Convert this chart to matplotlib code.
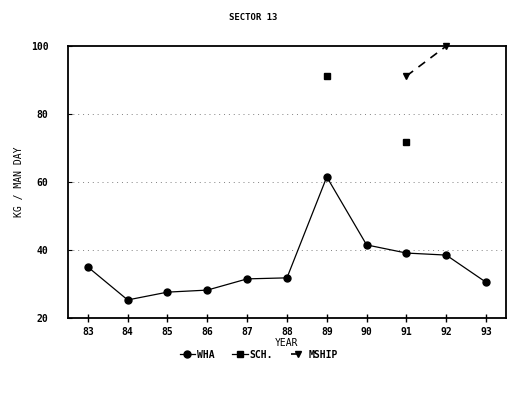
import numpy as np
import matplotlib.pyplot as plt

years = [83, 84, 85, 86, 87, 88, 89, 90, 91, 92, 93]
year_labels = ["83", "84", "85", "86", "87", "88", "89", "90", "91", "92", "93"]
wha = [35.0, 25.3, 27.6, 28.2, 31.5, 31.8, 61.5, 41.5, 39.1, 38.5, 30.5]
sch = [np.nan, np.nan, np.nan, np.nan, np.nan, np.nan, 91.2, np.nan, 71.8, np.nan, np.nan]
mship = [np.nan, np.nan, np.nan, np.nan, np.nan, np.nan, np.nan, np.nan, 91.2, 100.0, np.nan]

plt.rcParams['font.family'] = ['DejaVu Sans Mono']
plt.rcParams['font.weight'] = 'bold'

fig = plt.figure(figsize=(5.07, 3.94), dpi=100)
ax = fig.add_axes([0.134, 0.193, 0.864, 0.690])

ax.plot(years, wha, color='black', lw=0.9, marker='o', ms=5, label='WHA')
ax.plot(years, sch, color='black', lw=0.9, marker='s', ms=4.5, label='SCH.', clip_on=False)
ax.plot(years, mship, color='black', lw=1.2, ls=(0, (5, 4)), marker='v', ms=5,
        label='MSHIP', clip_on=False)

ax.set_xlim(82.5, 93.5)
ax.set_ylim(20, 100)
ax.set_xticks(years)
ax.set_xticklabels(year_labels, fontsize=7)
ax.set_yticks([20, 40, 60, 80, 100])
ax.set_yticklabels(["20", "40", "60", "80", "100"], fontsize=7)
ax.tick_params(axis='x', direction='inout', length=6, width=1)
ax.tick_params(axis='y', direction='in', length=3, width=0.8, pad=14)

for y in [40, 60, 80]:
    ax.axhline(y, color='gray', lw=0.7, ls=(0, (1, 4)), zorder=0)

for s in ax.spines.values():
    s.set_linewidth(1.3)

ax.set_xlabel("YEAR", fontsize=7, labelpad=1)
ax.set_ylabel("KG / MAN DAY", fontsize=7, labelpad=5)
fig.text(0.5, 0.955, "SECTOR 13", ha='center', va='center', fontsize=6.5)

fig.legend(loc='center', bbox_to_anchor=(0.51, 0.1), ncol=3, frameon=False,
           fontsize=7, handlelength=1.6, handletextpad=0.2, columnspacing=1.8)

fig.savefig("out.png", dpi=100)
